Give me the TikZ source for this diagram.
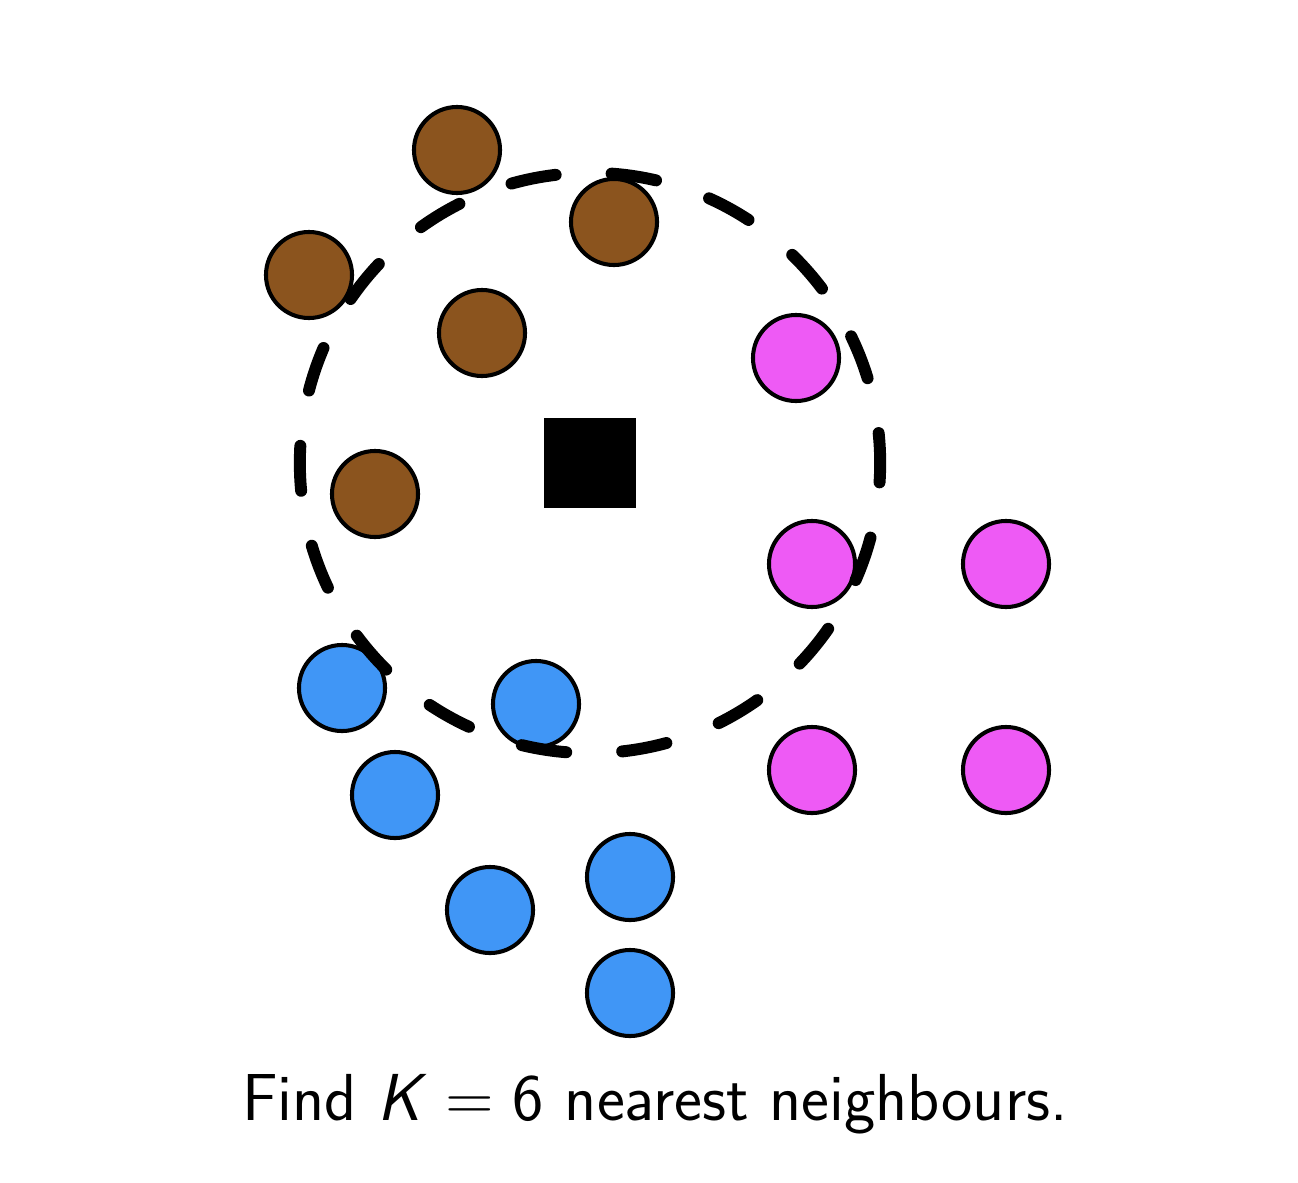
\documentclass[tikz,border=0pt]{standalone}
\usepackage{fontspec}
\usepackage{xcolor}
\usepackage{tikz}
\usetikzlibrary{positioning}

\definecolor{pointbrown}{RGB}{139,84,30}
\definecolor{pointpink}{RGB}{238,90,245}
\definecolor{pointblue}{RGB}{64,150,246}

\begin{document}
\begin{tikzpicture}[
    x=0.01cm, y=-0.01cm,
    pt/.style={circle, draw, line width=1.15pt, inner sep=0pt, minimum size=0.86cm},
    brown/.style={pt, fill=pointbrown},
    pink/.style={pt, fill=pointpink},
    blue/.style={pt, fill=pointblue},
    query/.style={fill=black, inner sep=0pt, minimum width=0.92cm, minimum height=0.9cm},
    ring/.style={line width=3.4pt, line cap=round, dash pattern=on 0.45cm off 0.56cm, dash phase=0.15cm}
]
\useasboundingbox (0,0) rectangle (1298,1182);
% brown class
\node[brown] (b1) at (457,150) {};
\node[brown] (b2) at (614,222) {};
\node[brown] (b3) at (309,275) {};
\node[brown] (b4) at (482,333) {};
\node[brown] (b5) at (375,494) {};
% pink class
\node[pink] (p1) at (796,358) {};
\node[pink] (p2) at (812,564) {};
\node[pink] (p3) at (1006,564) {};
\node[pink] (p4) at (812,770) {};
\node[pink] (p5) at (1006,770) {};
% blue class
\node[blue] (c1) at (342,688) {};
\node[blue] (c2) at (536,704) {};
\node[blue] (c3) at (395,795) {};
\node[blue] (c4) at (490,910) {};
\node[blue] (c5) at (630,877) {};
\node[blue] (c6) at (630,993) {};
% query point and neighbourhood
\node[query] (q) at (590,463) {};
\draw[ring] (q.center) circle (2.9cm);
\node[font=\sffamily\fontsize{18.9}{22}\selectfont] (cap) at (655,1104)
    {Find \textsl{K}\;=\;6 nearest neighbours.};
\end{tikzpicture}
\end{document}
